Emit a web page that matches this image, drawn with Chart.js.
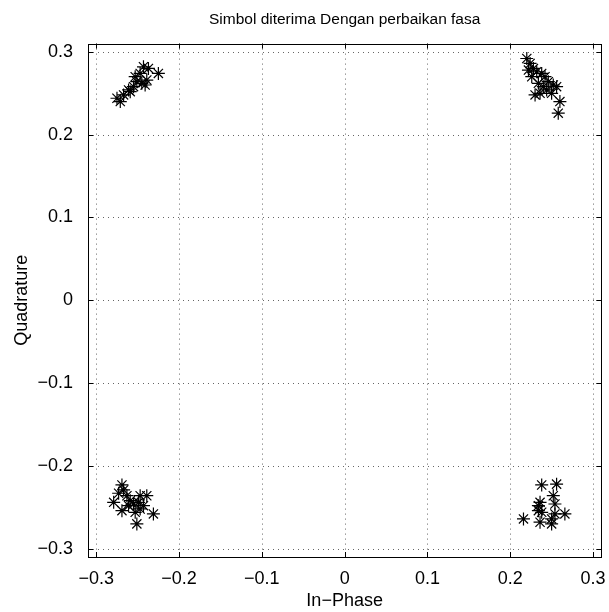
<!DOCTYPE html>
<html><head><meta charset="utf-8">
<script src="https://cdn.jsdelivr.net/npm/chart.js@4/dist/chart.umd.min.js"></script>
<style>html,body{margin:0;padding:0;background:#fff;}#wrap{width:609px;height:612px;}</style>
</head><body><div id="wrap"><canvas id="c" width="609" height="612"></canvas></div>
<script>
const titleText = "Simbol diterima Dengan perbaikan fasa";
const xLabel = "In\u2212Phase";
const yLabel = "Quadrature";
const tickValues = [-0.3, -0.2, -0.1, 0, 0.1, 0.2, 0.3];
const axisMin = -0.31, axisMax = 0.31;

const clusterTL_I = [-0.275,-0.271,-0.267,-0.259,-0.255,-0.251,-0.245,-0.241,-0.239,-0.247,-0.243,-0.237,-0.225,-0.253,-0.261];
const clusterTL_Q = [0.244,0.240,0.248,0.252,0.258,0.264,0.262,0.260,0.266,0.274,0.282,0.280,0.274,0.270,0.254];

const clusterTR_I = [0.220,0.224,0.228,0.222,0.226,0.232,0.238,0.242,0.246,0.252,0.256,0.234,0.240,0.230,0.236,0.244,0.250,0.260,0.258];
const clusterTR_Q = [0.292,0.286,0.280,0.278,0.270,0.276,0.274,0.270,0.264,0.260,0.258,0.262,0.258,0.248,0.250,0.254,0.250,0.240,0.226];

const clusterBL_I = [-0.269,-0.267,-0.273,-0.263,-0.279,-0.269,-0.259,-0.255,-0.247,-0.239,-0.249,-0.243,-0.253,-0.247,-0.231,-0.251,-0.261];
const clusterBL_Q = [-0.223,-0.229,-0.233,-0.236,-0.244,-0.254,-0.242,-0.246,-0.236,-0.236,-0.244,-0.248,-0.256,-0.252,-0.258,-0.270,-0.248];

const clusterBR_I = [0.238,0.256,0.252,0.254,0.236,0.234,0.234,0.238,0.216,0.236,0.250,0.254,0.266,0.250];
const clusterBR_Q = [-0.223,-0.222,-0.236,-0.246,-0.244,-0.248,-0.254,-0.256,-0.264,-0.268,-0.264,-0.258,-0.258,-0.270];

const allI = [].concat(clusterTL_I, clusterTR_I, clusterBL_I, clusterBR_I);
const allQ = [].concat(clusterTL_Q, clusterTR_Q, clusterBL_Q, clusterBR_Q);
const points = allI.map((v,i)=>({x:v, y:allQ[i]}));

const fontFam = "'Liberation Sans', Arial, Helvetica, sans-serif";
const fmt = v => (Math.abs(v) < 1e-9 ? "0" : String(Math.round(v*10)/10).replace('-', '\u2212'));

const gridPlugin = {
  id: 'dotgrid',
  beforeDatasetsDraw(chart) {
    const {ctx, chartArea: a, scales} = chart;
    ctx.save();
    ctx.strokeStyle = '#666';
    ctx.lineWidth = 1;
    ctx.setLineDash([1, 4]);
    ctx.beginPath();
    tickValues.forEach(v => {
      const px = Math.round(scales.x.getPixelForValue(v)) + 0.5;
      ctx.moveTo(px, a.top); ctx.lineTo(px, a.bottom);
      const py = Math.round(scales.y.getPixelForValue(v)) + 0.5;
      ctx.moveTo(a.left, py); ctx.lineTo(a.right, py);
    });
    ctx.stroke();
    ctx.restore();
  },
  afterDatasetsDraw(chart) {
    const {ctx, chartArea: a, scales} = chart;
    ctx.save();
    ctx.strokeStyle = '#000';
    ctx.lineWidth = 1;
    ctx.beginPath();
    const tl = 5;
    tickValues.forEach(v => {
      const px = Math.round(scales.x.getPixelForValue(v)) + 0.5;
      ctx.moveTo(px, a.bottom); ctx.lineTo(px, a.bottom - tl);
      ctx.moveTo(px, a.top); ctx.lineTo(px, a.top + tl);
      const py = Math.round(scales.y.getPixelForValue(v)) + 0.5;
      ctx.moveTo(a.left, py); ctx.lineTo(a.left + tl, py);
      ctx.moveTo(a.right, py); ctx.lineTo(a.right - tl, py);
    });
    ctx.stroke();
    ctx.strokeRect(Math.round(a.left)+0.5, Math.round(a.top)+0.5, Math.round(a.right-a.left), Math.round(a.bottom-a.top));
    ctx.restore();
  }
};

new Chart(document.getElementById('c'), {
  type: 'scatter',
  data: { datasets: [{
    data: points,
    pointStyle: 'star',
    pointRadius: 6.5,
    borderColor: '#000',
    backgroundColor: '#000',
    borderWidth: 1.2,
    pointHoverRadius: 6.5
  }]},
  options: {
    responsive: false,
    animation: false,
    events: [],
    layout: { padding: { left: 0, right: 7, top: 0, bottom: 0 } },
    plugins: {
      legend: { display: false },
      tooltip: { enabled: false },
      title: { display: true, text: titleText, color: '#000', fullSize: false,
        font: { family: fontFam, size: 15.5, weight: 'normal' }, padding: { top: 10, bottom: 15 } }
    },
    scales: {
      x: {
        type: 'linear', min: axisMin, max: axisMax,
        afterBuildTicks: s => { s.ticks = tickValues.map(v => ({value: v})); },
        afterFit: s => { s.height = 55; s.paddingLeft = 0; s.paddingRight = 0; },
        ticks: { callback: v => fmt(v), color: '#000', font: { family: fontFam, size: 18 }, padding: 3, maxRotation: 0 },
        grid: { display: false },
        border: { display: false },
        title: { display: true, text: xLabel, color: '#000', font: { family: fontFam, size: 18 }, padding: { top: 0, bottom: 0 } }
      },
      y: {
        type: 'linear', min: axisMin, max: axisMax,
        afterBuildTicks: s => { s.ticks = tickValues.map(v => ({value: v})); },
        afterFit: s => { s.width = 88; s.paddingTop = 0; s.paddingBottom = 0; },
        ticks: { callback: v => fmt(v), color: '#000', font: { family: fontFam, size: 18 }, padding: 7 },
        grid: { display: false },
        border: { display: false },
        title: { display: true, text: yLabel, color: '#000', font: { family: fontFam, size: 18 }, padding: { top: 11, bottom: 0 } }
      }
    }
  },
  plugins: [gridPlugin]
});
</script>
</body></html>
